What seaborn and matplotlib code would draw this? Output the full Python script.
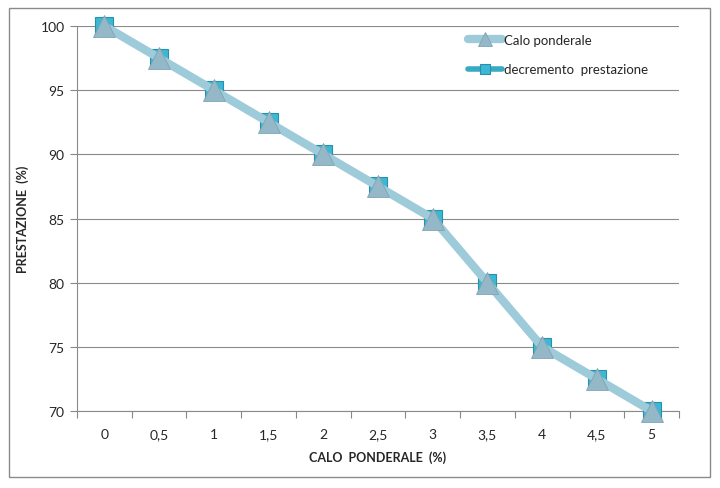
import matplotlib
matplotlib.use("Agg")
import matplotlib.pyplot as plt
import numpy as np
import pandas as pd
import seaborn as sns
from matplotlib.patches import Rectangle

# data
calo_labels = ["0", "0,5", "1", "1,5", "2", "2,5", "3", "3,5", "4", "4,5", "5"]
calo_ponderale = [100, 97.5, 95, 92.5, 90, 87.5, 85, 80, 75, 72.5, 70]
decremento_prestazione = [100, 97.5, 95, 92.5, 90, 87.5, 85, 80, 75, 72.5, 70]
y_ticks = [70, 75, 80, 85, 90, 95, 100]

sns.set_theme(style="white")
plt.rcParams["font.family"] = ["Lato", "DejaVu Sans"]

df = pd.DataFrame({
    "pos": np.arange(len(calo_labels)),
    "calo": calo_ponderale,
    "decremento": decremento_prestazione,
})

fig = plt.figure(figsize=(7.2, 4.89), dpi=100)
ax = fig.add_axes([77 / 720, 1 - 412 / 489, (679 - 77) / 720, (412 - 27) / 489])

sns.lineplot(data=df, x="pos", y="decremento", ax=ax, color="#3aa9c4", linewidth=4,
             marker="s", markersize=13, markerfacecolor="#3cb8d4",
             markeredgecolor="#2a8fa8", markeredgewidth=0.8,
             label="decremento  prestazione", zorder=3, clip_on=False)
sns.lineplot(data=df, x="pos", y="calo", ax=ax, color="#9ecbd9", linewidth=6,
             marker="^", markersize=16, markerfacecolor="#94b8c8",
             markeredgecolor="#7fa3b3", markeredgewidth=0.6,
             label="Calo ponderale", zorder=4, clip_on=False)

ax.set_xlim(-0.5, len(calo_labels) - 0.5)
ax.set_ylim(70, 100)
ax.set_yticks(y_ticks)
ax.set_yticklabels([str(v) for v in y_ticks], fontsize=10)
ax.set_xticks(np.arange(len(calo_labels)))
ax.set_xticklabels(calo_labels, fontsize=10)
ax.set_xticks(np.arange(len(calo_labels) + 1) - 0.5, minor=True)
ax.tick_params(axis="x", which="major", length=0, pad=12)
ax.tick_params(axis="x", which="minor", length=5, width=0.8, color="#888888", direction="out", bottom=True)
ax.tick_params(axis="y", length=5, width=0.8, color="#888888", direction="out", left=True, pad=4)
ax.yaxis.grid(True, color="#8a8a8a", linewidth=0.8)
ax.set_axisbelow(True)
for side in ["top", "right"]:
    ax.spines[side].set_visible(False)
for side in ["left", "bottom"]:
    ax.spines[side].set_color("#8a8a8a")
    ax.spines[side].set_linewidth(0.8)

ax.set_xlabel("CALO  PONDERALE  (%)", fontsize=9, fontweight="bold", labelpad=8)
ax.set_ylabel("PRESTAZIONE  (%)", fontsize=9, fontweight="bold", labelpad=8)

handles, labels = ax.get_legend_handles_labels()
ax.legend(handles[::-1], labels[::-1], loc="upper left", bbox_to_anchor=(0.63, 1.01),
          frameon=False, fontsize=9.5, handlelength=2.6, labelspacing=1.3,
          handletextpad=0.1, markerscale=0.6)

fig.patches.append(Rectangle((9 / 720, 1 - 478 / 489), (710 - 9) / 720, (478 - 9) / 489,
                             transform=fig.transFigure, fill=False, edgecolor="#8a8a8a", linewidth=1))

fig.savefig("out.png", dpi=100)
